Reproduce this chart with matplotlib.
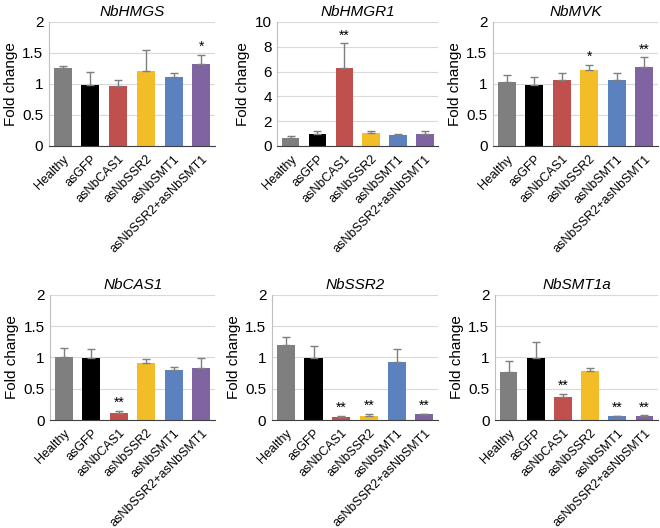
import matplotlib
matplotlib.use("Agg")
import matplotlib.pyplot as plt
import numpy as np

plt.rcParams['font.family'] = ['Liberation Sans', 'DejaVu Sans']

groups = ["Healthy", "asGFP", "asNbCAS1", "asNbSSR2", "asNbSMT1", "asNbSSR2+asNbSMT1"]
colors = ["#7f7f7f", "#000000", "#c0504d", "#f2bd26", "#5b82bf", "#8064a2"]

genes = ["NbHMGS", "NbHMGR1", "NbMVK", "NbCAS1", "NbSSR2", "NbSMT1a"]

hmgs = [1.26, 0.99, 0.97, 1.21, 1.12, 1.32]
hmgs_err = [0.03, 0.20, 0.09, 0.33, 0.06, 0.15]
hmgs_sig = ["", "", "", "", "", "*"]

hmgr1 = [0.62, 0.97, 6.25, 1.07, 0.86, 0.97]
hmgr1_err = [0.18, 0.26, 2.05, 0.13, 0.11, 0.21]
hmgr1_sig = ["", "", "**", "", "", ""]

mvk = [1.03, 0.99, 1.06, 1.22, 1.06, 1.28]
mvk_err = [0.11, 0.13, 0.12, 0.09, 0.11, 0.15]
mvk_sig = ["", "", "", "*", "", "**"]

cas1 = [1.01, 0.99, 0.12, 0.91, 0.80, 0.83]
cas1_err = [0.14, 0.15, 0.03, 0.07, 0.05, 0.16]
cas1_sig = ["", "", "**", "", "", ""]

ssr2 = [1.20, 0.99, 0.05, 0.07, 0.92, 0.09]
ssr2_err = [0.13, 0.19, 0.02, 0.03, 0.21, 0.01]
ssr2_sig = ["", "", "**", "**", "", "**"]

smt1a = [0.76, 0.99, 0.37, 0.79, 0.06, 0.07]
smt1a_err = [0.18, 0.26, 0.05, 0.04, 0.01, 0.01]
smt1a_sig = ["", "", "**", "", "**", "**"]

panels = [
    (hmgs, hmgs_err, hmgs_sig, 2, 0.5),
    (hmgr1, hmgr1_err, hmgr1_sig, 10, 2),
    (mvk, mvk_err, mvk_sig, 2, 0.5),
    (cas1, cas1_err, cas1_sig, 2, 0.5),
    (ssr2, ssr2_err, ssr2_sig, 2, 0.5),
    (smt1a, smt1a_err, smt1a_sig, 2, 0.5),
]

# axes boxes in figure fractions [left, bottom, width, height]
boxes = [
    [0.074, 0.7235, 0.252, 0.235],
    [0.420, 0.7235, 0.244, 0.235],
    [0.747, 0.7235, 0.250, 0.235],
    [0.076, 0.2045, 0.250, 0.237],
    [0.412, 0.2045, 0.252, 0.237],
    [0.750, 0.2045, 0.247, 0.237],
]

fig = plt.figure(figsize=(6.6, 5.28), dpi=100)

for gene, (vals, errs, sig, ymax, step), box in zip(genes, panels, boxes):
    ax = fig.add_axes(box)
    x = np.arange(len(groups))
    ax.bar(x, vals, width=0.65, color=colors, zorder=2)
    ax.errorbar(x, vals, yerr=[np.zeros(len(vals)), errs], fmt="none",
                ecolor="#7f7f7f", elinewidth=1, capsize=3, capthick=1, zorder=3)
    for xi, v, e, s in zip(x, vals, errs, sig):
        if s:
            ax.text(xi, v + e + ymax * 0.005, s, ha="center", va="bottom", fontsize=10)
    ax.set_xlim(-0.5, len(groups) - 0.5)
    ax.set_ylim(0, ymax)
    ax.set_yticks(np.arange(0, ymax + step / 2, step))
    ax.set_yticklabels(["{:g}".format(t) for t in np.arange(0, ymax + step / 2, step)], fontsize=11)
    ax.yaxis.grid(True, color="#d9d9d9", linewidth=0.8, zorder=0)
    ax.set_axisbelow(True)
    ax.set_xticks(x)
    ax.set_xticklabels(groups, rotation=45, ha="right", rotation_mode="anchor", fontsize=9)
    ax.tick_params(axis="both", length=0, pad=4)
    ax.tick_params(axis="x", pad=5)
    for side in ["top", "right"]:
        ax.spines[side].set_visible(False)
    ax.spines["left"].set_color("#bfbfbf")
    ax.spines["bottom"].set_color("#404040")
    ax.set_ylabel("Fold change", fontsize=11, labelpad=3)
    ax.set_title(gene, fontsize=11, style="italic", pad=4)

fig.savefig("out.png", dpi=100)
